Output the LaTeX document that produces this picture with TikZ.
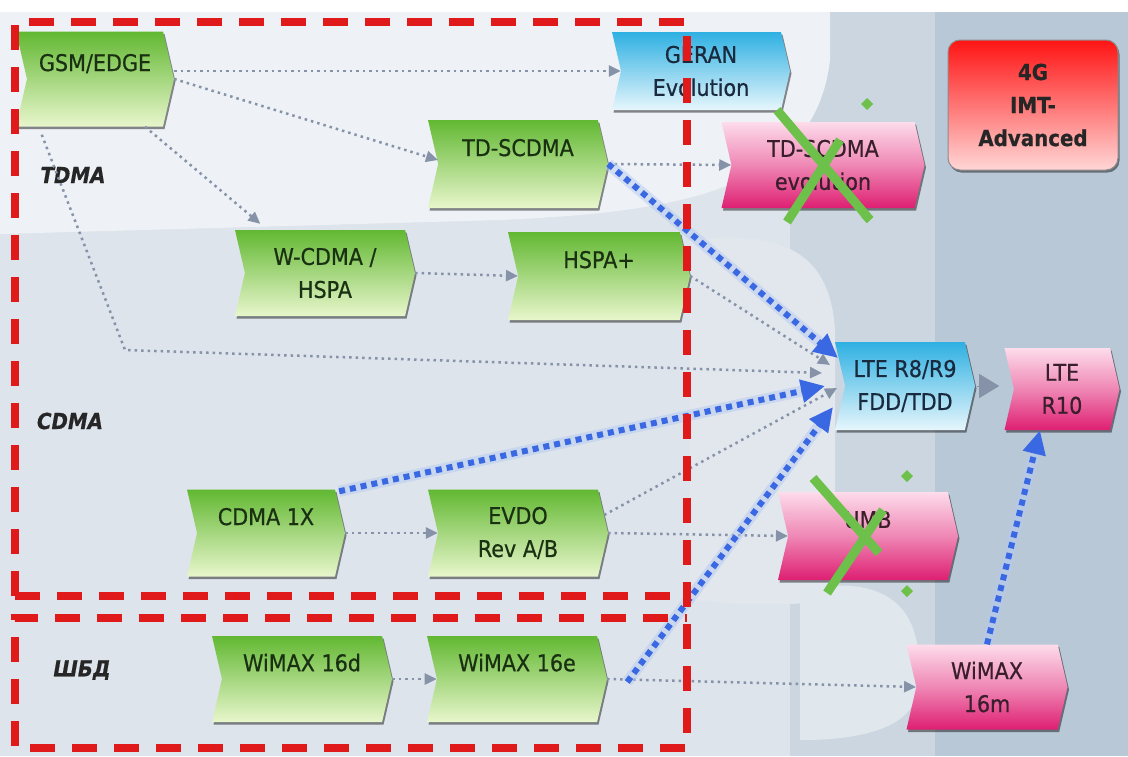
\documentclass[tikz,border=0pt]{standalone}
\usepackage{fontspec}
\setmainfont{DejaVu Sans}[FakeStretch=0.9,FakeBold=0.6]
\usetikzlibrary{shapes.symbols,arrows.meta,shadows,calc}
\definecolor{bgbase}{HTML}{D9E0E8}
\definecolor{bgleft}{HTML}{DDE4EB}
\definecolor{bglight}{HTML}{EEF2F6}
\definecolor{bgright}{HTML}{B9C8D7}
\definecolor{bgmid}{HTML}{CCD6E0}
\definecolor{gtop}{HTML}{62B832}
\definecolor{gbot}{HTML}{E8F6CC}
\definecolor{gtext}{HTML}{1A3012}
\definecolor{btop}{HTML}{2EB0E2}
\definecolor{bbot}{HTML}{E6F6FC}
\definecolor{btext}{HTML}{1A2A3E}
\definecolor{ptop}{HTML}{FDDCEB}
\definecolor{pbot}{HTML}{DE1F72}
\definecolor{ptext}{HTML}{3A1E2C}
\definecolor{rtop}{HTML}{FF1414}
\definecolor{rbot}{HTML}{FFD6D6}
\definecolor{arrgray}{HTML}{8692A8}
\definecolor{arrblue}{HTML}{3A68E2}
\definecolor{halo}{HTML}{B4C9F2}
\definecolor{reddash}{HTML}{E01A1A}
\definecolor{xgreen}{HTML}{6DC04A}
\begin{document}
\begin{tikzpicture}[x=1pt,y=-1pt,
  box/.style={signal, signal from=west, signal to=east, signal pointer angle=154,
    inner sep=0pt, align=center, font=\fontsize{23}{33}\selectfont,
    drop shadow={shadow xshift=1.5pt, shadow yshift=-2.5pt, fill=black, opacity=0.45}},
  gbox/.style={box, top color=gtop, bottom color=gbot, text=gtext},
  bbox/.style={box, top color=btop, bottom color=bbot, text=btext},
  pbox/.style={box, top color=ptop, bottom color=pbot, middle color=ptop!55!pbot, text=ptext},
  lbl/.style={font=\bfseries\itshape\fontsize{22}{26}\selectfont, text=black!85},
  gray/.style={draw=arrgray, line width=2.5pt, dash pattern=on 2.5pt off 4pt,
    -{Triangle[length=12pt,width=11pt]}},
  blue/.style={draw=arrblue, line width=6pt, dash pattern=on 6pt off 5pt,
    preaction={draw=halo, line width=11pt, opacity=0.5, solid},
    -{Triangle[length=24pt,width=22pt]}},
  redd/.style={draw=reddash, line width=8pt, dash pattern=on 25pt off 17pt},
  xmark/.style={draw=xgreen, line width=9pt},
  handle/.style={fill=xgreen, draw=none}
]
\useasboundingbox (0,0) rectangle (1128,756);
% background
\fill[bgbase] (0,0) rectangle (1128,756);
\fill[bgleft] (0,12) rectangle (800,756);
\fill[bgmid] (790,12) rectangle (935,756);
\fill[bgright] (935,12) rectangle (1128,756);
\fill[bglight] (0,12) -- (830,12) -- (830,60) .. controls (815,190) and (680,212) .. (500,220) -- (0,234) -- cycle;
\fill[bgleft!88!white] (690,240) .. controls (780,230) and (830,250) .. (835,330) -- (835,600) .. controls (760,610) and (700,600) .. (690,600) -- cycle;
\fill[bgleft!90!white] (800,590) .. controls (900,570) and (930,620) .. (915,700) .. controls (900,740) and (820,740) .. (800,740) -- cycle;
\fill[white] (0,0) rectangle (1128,12);

% nodes
\node[gbox, minimum width=158pt, minimum height=95pt] (gsm) at (95,79) {GSM/EDGE\\\mbox{}};
\node[bbox, minimum width=178pt, minimum height=78pt] (geran) at (701,71) {GERAN\\Evolution};
\node[gbox, minimum width=180pt, minimum height=88pt] (tds) at (518,164) {TD-SCDMA\\\mbox{}};
\node[pbox, minimum width=203pt, minimum height=86pt] (tdse) at (823,165) {TD-SCDMA\\evolution};
\node[rounded corners=12pt, draw=black!45, line width=1pt, top color=rtop, bottom color=rbot,
      minimum width=170pt, minimum height=130pt, align=center, text=black!85,
      font=\bfseries\fontsize{22}{33}\selectfont,
      drop shadow={shadow xshift=1.5pt, shadow yshift=-2.5pt, fill=black, opacity=0.45}]
      (img) at (1033,105) {4G\\IMT-\\Advanced};
\node[gbox, minimum width=180pt, minimum height=86pt] (wcdma) at (325,273) {W-CDMA /\\HSPA};
\node[gbox, minimum width=182pt, minimum height=88pt] (hspa) at (599,276) {HSPA+\\\mbox{}};
\node[bbox, minimum width=140pt, minimum height=88pt] (lte) at (905,386) {LTE R8/R9\\FDD/TDD};
\node[pbox, minimum width=115pt, minimum height=82pt] (r10) at (1062,389) {LTE\\R10};
\node[gbox, minimum width=158pt, minimum height=87pt] (cdma) at (266,533) {CDMA 1X\\\mbox{}};
\node[gbox, minimum width=180pt, minimum height=87pt] (evdo) at (518,533) {EVDO\\Rev A/B};
\node[pbox, minimum width=180pt, minimum height=88pt] (umb) at (868,536) {UMB\\\mbox{}};
\node[gbox, minimum width=180pt, minimum height=86pt] (w16d) at (302,679) {WiMAX 16d\\\mbox{}};
\node[gbox, minimum width=180pt, minimum height=86pt] (w16e) at (517,679) {WiMAX 16e\\\mbox{}};
\node[pbox, minimum width=161pt, minimum height=85pt] (w16m) at (987,687) {WiMAX\\16m};

% labels
\node[lbl] (ltdma) at (73,175) {TDMA};
\node[lbl] (lcdma) at (70,421) {CDMA};
\node[lbl] (lshbd) at (82,670) {ШБД};

% gray connectors
\coordinate (bend) at (125,350);
\draw[gray] ($(gsm.east)+(0,-8)$) -- (geran.west);
\draw[gray] (gsm.east) -- ($(tds.west)+(0,-4)$);
\draw[gray] ($(gsm.south)+(50,0)$) -- ($(wcdma.north west)!0.15!(wcdma.north east)+(0,-6)$);
\draw[gray] ($(gsm.south west)+(26,8)$) -- (bend) -- ($(lte.center)+(-83,-13)$);
\draw[gray] (tds.east) -- (tdse.west);
\draw[gray] (wcdma.east) -- (hspa.west);
\draw[gray] (hspa.east) -- ($(lte.center)+(-75,-21)$);
\draw[gray] (cdma.east) -- (evdo.west);
\draw[gray] ($(evdo.east)+(-4,-18)$) -- ($(lte.center)+(-68,2)$);
\draw[gray] (evdo.east) -- (umb.west);
\draw[gray] (w16d.east) -- (w16e.west);
\draw[gray] (w16e.east) -- (w16m.west);
\draw[draw=arrgray, line width=1pt, -{Triangle[length=20pt,width=24pt]}] ($(lte.east)+(2,0)$) -- ($(lte.east)+(24,0)$);

% blue connectors
\draw[blue] (tds.east) -- ($(lte.center)+(-67,-28)$);
\draw[blue] ($(cdma.north east)+(4,2)$) -- ($(lte.center)+(-80,0)$);
\draw[blue] ($(w16e.east)+(20,3)$) -- ($(lte.center)+(-72,21)$);
\draw[blue] (w16m.north) -- ($(r10.south)+(-22,0)$);

% red dashed frames
\draw[redd] (15,596) -- (15,22) -- (687,22) -- (687,748) -- (15,748) -- (15,618) -- (687,618);
\draw[redd] (15,596) -- (687,596);

% green crosses
\draw[xmark] (777,110) -- (870,220);
\draw[xmark] (840,140) -- (787,222);
\draw[xmark] (813,478) -- (879,553);
\draw[xmark] (883,510) -- (827,593);
\foreach \p in {(867,104),(867,217),(907,476),(907,591)}
  \fill[handle] \p ++(-6,0) -- ++(6,-6) -- ++(6,6) -- ++(-6,6) -- cycle;
\end{tikzpicture}
\end{document}
